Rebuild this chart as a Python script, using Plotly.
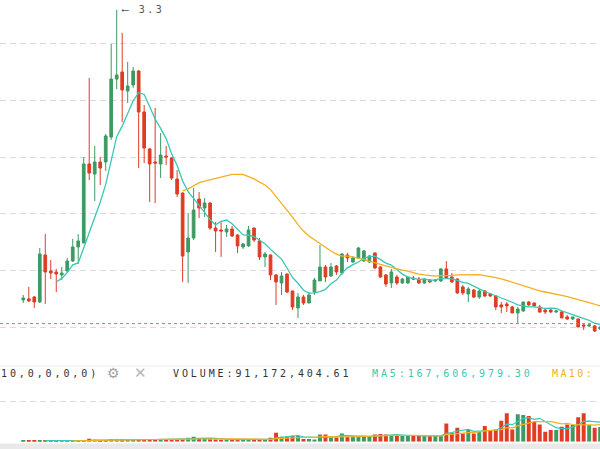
import plotly.graph_objects as go
import pandas as pd

# ---------------- data ----------------
opens = [0.739,0.748,0.765,0.721,1.136,0.995,0.986,0.960,0.995,1.083,
         1.207,1.242,1.940,1.851,1.957,1.957,2.178,2.690,2.752,2.584,
         2.637,2.761,2.399,2.072,1.957,1.940,2.010,1.993,1.807,1.683,
         1.163,1.286,1.630,1.551,1.595,1.374,1.357,1.339,1.366,1.313,
         1.207,1.216,1.374,1.260,1.119,1.136,0.960,0.889,0.968,0.818,
         0.668,0.765,0.712,0.809,0.907,1.030,0.951,1.039,0.977,1.136,
         1.074,1.110,1.083,1.074,1.154,1.030,0.960,0.889,0.942,0.889,
         0.889,0.933,0.924,0.889,0.915,0.907,0.907,1.013,0.942,0.924,
         0.854,0.792,0.827,0.765,0.818,0.792,0.774,0.695,0.703,0.677,
         0.624,0.642,0.721,0.712,0.677,0.650,0.650,0.633,0.633,0.589,
         0.571,0.571,0.518,0.509,0.509,0.482]
highs = [0.783,0.854,0.774,1.198,1.322,1.092,1.013,1.030,1.110,1.278,
         1.322,2.001,2.699,2.099,2.001,2.204,3.000,3.300,3.097,2.841,
         2.796,2.770,2.461,2.080,2.434,2.213,2.099,1.998,1.886,1.690,
         1.507,1.728,1.692,1.639,1.600,1.427,1.427,1.401,1.392,1.318,
         1.242,1.392,1.378,1.286,1.163,1.140,0.965,0.986,0.972,0.822,
         0.801,0.783,0.809,0.933,1.224,1.048,1.066,1.048,1.154,1.154,
         1.127,1.207,1.180,1.136,1.158,1.039,0.965,1.013,0.960,0.933,
         0.942,0.951,0.942,0.933,0.924,0.924,1.021,1.083,0.977,0.928,
         0.871,0.854,0.836,0.836,0.827,0.801,0.783,0.721,0.721,0.686,
         0.677,0.721,0.730,0.716,0.695,0.668,0.659,0.650,0.642,0.606,
         0.589,0.575,0.526,0.526,0.518,0.509]
lows = [0.712,0.721,0.668,0.712,0.703,0.924,0.809,0.915,0.977,1.074,
        1.057,1.242,1.798,1.613,1.754,1.878,2.152,2.602,2.311,2.478,
        2.611,1.904,1.948,1.604,1.595,1.816,1.931,1.798,1.648,0.898,
        0.889,1.268,1.463,1.471,1.357,1.163,1.119,1.295,1.295,1.154,
        1.189,1.207,1.251,1.092,1.030,0.915,0.695,0.783,0.801,0.650,
        0.580,0.695,0.712,0.783,0.907,0.898,0.942,0.960,0.960,1.074,
        1.066,1.101,1.074,1.066,1.013,0.933,0.854,0.845,0.871,0.880,
        0.880,0.915,0.880,0.880,0.889,0.898,0.898,0.924,0.889,0.792,
        0.783,0.721,0.756,0.748,0.765,0.765,0.650,0.624,0.633,0.624,
        0.535,0.633,0.686,0.677,0.624,0.615,0.624,0.624,0.580,0.562,
        0.562,0.500,0.474,0.500,0.456,0.474]
closes = [0.756,0.730,0.721,1.145,0.986,0.977,0.968,0.977,1.083,1.207,
          1.260,1.940,1.860,1.957,1.904,2.187,2.690,2.726,2.593,2.629,
          2.761,2.399,2.081,1.940,1.948,2.019,2.001,1.816,1.675,1.127,
          1.286,1.533,1.551,1.595,1.374,1.348,1.348,1.366,1.304,1.216,
          1.233,1.357,1.268,1.119,1.145,0.960,0.898,0.951,0.809,0.677,
          0.765,0.712,0.783,0.915,1.030,0.942,1.030,0.986,1.145,1.110,
          1.110,1.198,1.172,1.127,1.021,0.942,0.880,0.986,0.889,0.924,
          0.942,0.924,0.889,0.924,0.898,0.915,1.013,0.933,0.898,0.801,
          0.801,0.836,0.765,0.818,0.774,0.774,0.677,0.677,0.686,0.624,
          0.659,0.721,0.695,0.686,0.633,0.633,0.633,0.642,0.580,0.571,
          0.589,0.500,0.509,0.518,0.465,0.500]
# volume in millions
volumes = [5,7.5,6,9,7.5,5,4,3,4,5,
           5,9,19,12.5,9,9,15.5,15.5,15.5,12.5,
           12.5,15.5,15.5,12.5,12.5,15.5,12.5,12.5,12.5,15.5,
           25,31,19,22,15.5,14,12.5,12.5,14,14,
           12.5,15.5,14,14,12.5,25,56,31,31,37.5,
           37.5,17,17,14.5,45.6,45.6,27,27,52,31,
           31,31,31,35.6,45.6,48,45.6,42,37.5,35.6,
           35.6,35.6,35.6,35.6,35.6,39.4,37.5,114.4,56.3,87.5,
           52,73,52,62.5,98,68.8,77,131,177,77,
           171,167,160,125,108,62.5,73,73,94,108,
           104,152,177,104,87.5,91.17]
last_price = 0.53
peak_label = "3.3"
price_ticks = [0.5, 1.0, 1.5, 2.0, 2.5, 3.0]
volume_ticks = [250]
title_params = "10,0,0,0,0)"
vol_text = "VOLUME:91,172,404.61"
ma5_text = "MA5:167,606,979.30"
ma10_text = "MA10:"

# ---------------- styles ----------------
UP = "#3d9a62"
DOWN = "#e03c24"
TEAL = "#38c8b4"
ORANGE = "#f2b01e"
GRID = "#dadada"
FONT = "DejaVu Sans Mono"

x = list(range(len(closes)))
cs = pd.Series(closes)
ma7 = cs.rolling(7).mean()
ma30 = cs.rolling(30).mean()
vs = pd.Series(volumes)
vma5 = vs.rolling(5).mean()
vma10 = vs.rolling(10).mean()
vcolors = [UP if c >= o else DOWN for o, c in zip(opens, closes)]

fig = go.Figure()
fig.add_trace(go.Candlestick(
    x=x, open=opens, high=highs, low=lows, close=closes,
    increasing=dict(line=dict(color=UP, width=1), fillcolor=UP),
    decreasing=dict(line=dict(color=DOWN, width=1), fillcolor=DOWN),
    whiskerwidth=0, hoverinfo="skip", yaxis="y"))
fig.add_trace(go.Scatter(x=x, y=ma7, mode="lines", line=dict(color=TEAL, width=1.3),
                         hoverinfo="skip", yaxis="y"))
fig.add_trace(go.Scatter(x=x, y=ma30, mode="lines", line=dict(color=ORANGE, width=1.3),
                         hoverinfo="skip", yaxis="y"))
fig.add_trace(go.Bar(x=x, y=volumes, marker=dict(color=vcolors, line=dict(width=0)),
                     width=0.72, hoverinfo="skip", yaxis="y2"))
fig.add_trace(go.Scatter(x=x, y=vma5, mode="lines", line=dict(color=TEAL, width=1.2),
                         hoverinfo="skip", yaxis="y2"))
fig.add_trace(go.Scatter(x=x, y=vma10, mode="lines", line=dict(color=ORANGE, width=1.2),
                         hoverinfo="skip", yaxis="y2"))

H = 449.0
W = 600.0
def py(p):
    return 1 - p / H

def spaced(t, ls=2.9):
    return f'<span style="letter-spacing:{ls}px">{t}</span>'

ann = [
    dict(x=-1 / W, y=py(373), xref="paper", yref="paper", xanchor="left", yanchor="middle",
         text=spaced(title_params), font=dict(family=FONT, size=10, color="#333333"), showarrow=False),
    dict(x=113.5 / W, y=py(373), xref="paper", yref="paper", xanchor="center", yanchor="middle",
         text="⚙", font=dict(family="DejaVu Sans", size=14, color="#a0a0a0"), showarrow=False),
    dict(x=140.5 / W, y=py(373), xref="paper", yref="paper", xanchor="center", yanchor="middle",
         text="✕", font=dict(family="DejaVu Sans", size=15, color="#b5b5b5"), showarrow=False),
    dict(x=171 / W, y=py(373), xref="paper", yref="paper", xanchor="left", yanchor="middle",
         text=spaced(vol_text), font=dict(family=FONT, size=10, color="#333333"), showarrow=False),
    dict(x=369.5 / W, y=py(373), xref="paper", yref="paper", xanchor="left", yanchor="middle",
         text=spaced(ma5_text), font=dict(family=FONT, size=10, color=TEAL), showarrow=False),
    dict(x=549.5 / W, y=py(373), xref="paper", yref="paper", xanchor="left", yanchor="middle",
         text=spaced(ma10_text, 2.4), font=dict(family=FONT, size=10, color=ORANGE), showarrow=False),
    dict(x=17, y=max(highs), xref="x", yref="y", xanchor="left", yanchor="middle", xshift=2,
         text=spaced("⟵ " + peak_label, 2.4), font=dict(family=FONT, size=10, color="#555555"),
         showarrow=False),
]

shapes = [
    dict(type="line", xref="paper", yref="y", x0=0, x1=1, y0=last_price, y1=last_price,
         line=dict(color="#e66a58", width=1, dash="3px,3px"), layer="above"),
    dict(type="line", xref="paper", yref="paper", x0=0, x1=1, y0=py(366), y1=py(366),
         line=dict(color="#ececec", width=1)),
    dict(type="rect", xref="paper", yref="paper", x0=0, x1=1, y0=0, y1=py(443.5),
         fillcolor="#e9e9e9", line=dict(width=0), layer="above"),
]

fig.update_layout(
    width=600, height=449,
    margin=dict(l=0, r=0, t=0, b=0),
    paper_bgcolor="white", plot_bgcolor="white",
    showlegend=False, bargap=0.28,
    xaxis=dict(range=[-4.24, 104.97], showticklabels=False, showgrid=False, zeroline=False,
               rangeslider=dict(visible=False), showline=False, ticks="", fixedrange=True,
               anchor="y2"),
    yaxis=dict(domain=[py(345), 1], range=[0.341, 3.388], tickvals=price_ticks,
               showticklabels=False, showgrid=True, gridcolor=GRID, griddash="6px,4px",
               gridwidth=1, zeroline=False, showline=False, ticks=""),
    yaxis2=dict(domain=[py(441.7), py(386)], range=[0, 348], tickvals=volume_ticks,
                showticklabels=False, showgrid=True, gridcolor=GRID, griddash="6px,4px",
                gridwidth=1, zeroline=False, showline=False, ticks=""),
    annotations=ann, shapes=shapes,
)

fig.write_html("out.html", config={"displayModeBar": False},
               post_script="document.body.style.margin='0px';document.body.style.overflow='hidden';")
